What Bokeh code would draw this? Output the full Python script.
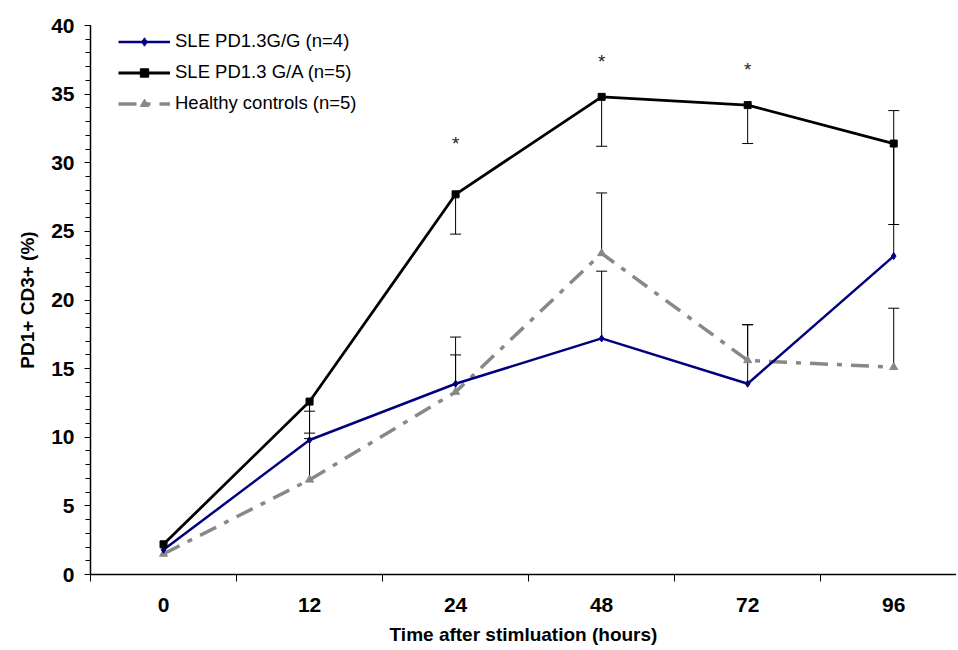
from bokeh.plotting import figure
from bokeh.models import (ColumnDataSource, FixedTicker, SingleIntervalTicker, Whisker,
                          TeeHead, Legend, LegendItem, Range1d)
from bokeh.core.properties import value
from bokeh.embed import file_html
from bokeh.resources import INLINE

# ---- data ----
categories = ["0", "12", "24", "48", "72", "96"]
gg_values = [1.8, 9.8, 13.9, 17.2, 13.9, 23.2]
ga_values = [2.2, 12.6, 27.7, 34.8, 34.2, 31.4]
hc_values = [1.5, 6.9, 13.3, 23.4, 15.6, 15.1]
gg_err_plus = [0.0, 2.1, 2.1, 4.9, 4.3, 10.6]
hc_err_plus = [0.0, 3.0, 4.0, 4.4, 2.6, 4.3]
ga_err_minus = [0.0, 2.3, 2.9, 3.6, 2.8, 5.9]
star_categories = ["24", "48", "72"]
star_values = [31.4, 37.4, 36.8]
y_ticks_interval = 5

FONT = "Liberation Sans"
xs = list(range(len(categories)))

p = figure(width=956, height=648, output_backend="svg", toolbar_location=None,
           x_range=Range1d(-0.5, 5.43), y_range=Range1d(0, 40),
           min_border_left=90, min_border_right=0, min_border_top=25, min_border_bottom=74)
p.outline_line_color = None
p.xgrid.grid_line_color = None
p.ygrid.grid_line_color = None
p.background_fill_color = "white"

# axes
p.xaxis.ticker = FixedTicker(ticks=xs, minor_ticks=[i - 0.5 for i in range(len(categories) + 1)])
p.xaxis.major_label_overrides = {i: c for i, c in zip(xs, categories)}
p.xaxis.major_tick_out = 0
p.xaxis.major_tick_in = 0
p.xaxis.minor_tick_out = 7
p.xaxis.minor_tick_in = 0
p.xaxis.major_label_standoff = 16
p.xaxis.axis_label = "Time after stimluation (hours)"
p.xaxis.axis_label_standoff = 9

p.yaxis.ticker = SingleIntervalTicker(interval=y_ticks_interval, num_minor_ticks=5)
p.yaxis.major_tick_out = 6
p.yaxis.major_tick_in = 0
p.yaxis.minor_tick_out = 5
p.yaxis.minor_tick_in = 0
p.yaxis.major_label_standoff = 10
p.yaxis.axis_label = "PD1+ CD3+ (%)"
p.yaxis.axis_label_standoff = 10

for ax in (p.xaxis, p.yaxis):
    ax.axis_line_color = "black"
    ax.axis_line_width = 1.5
    ax.major_tick_line_color = "black"
    ax.minor_tick_line_color = "black"
    ax.major_label_text_font = FONT
    ax.major_label_text_font_style = "bold"
    ax.major_label_text_font_size = "21px"
    ax.major_label_text_color = "black"
    ax.axis_label_text_font = FONT
    ax.axis_label_text_font_style = "bold"
    ax.axis_label_text_font_size = "19px"
    ax.axis_label_text_color = "black"

# error bars
def add_whisker(vals, errs, sign):
    bx, up, lo = [], [], []
    for x, v, e in zip(xs, vals, errs):
        if e > 0:
            bx.append(x)
            if sign > 0:
                lo.append(v); up.append(v + e)
            else:
                lo.append(v - e); up.append(v)
    src = ColumnDataSource(dict(base=bx, upper=up, lower=lo))
    head = TeeHead(size=11, line_color="black", line_width=1)
    w = Whisker(source=src, base="base", upper="upper", lower="lower",
                line_color="black", line_width=1,
                upper_head=head if sign > 0 else None,
                lower_head=head if sign < 0 else None,
                level="underlay")
    p.add_layout(w)

add_whisker(gg_values, gg_err_plus, 1)
add_whisker(hc_values, hc_err_plus, 1)
add_whisker(ga_values, ga_err_minus, -1)

# series
hc_line = p.line(xs, hc_values, line_color="#888888", line_width=3.5, line_dash="18 9 5 9")
hc_mark = p.scatter(xs, hc_values, marker="triangle", size=8, fill_color="#888888", line_color="#888888")
gg_line = p.line(xs, gg_values, line_color="#00007F", line_width=2.5)
gg_mark = p.scatter(xs, gg_values, marker="diamond", size=7, fill_color="#00007F", line_color="#00007F")
ga_line = p.line(xs, ga_values, line_color="black", line_width=2.8)
ga_mark = p.scatter(xs, ga_values, marker="square", size=7, fill_color="black", line_color="black")

# significance stars
star_x = [categories.index(c) for c in star_categories]
p.text(star_x, star_values, text=["*"] * len(star_x), text_align="center", text_baseline="middle",
       text_font=value(FONT), text_font_size="19px", text_color="#222222")

legend = Legend(items=[
    LegendItem(label="SLE PD1.3G/G (n=4)", renderers=[gg_line, gg_mark]),
    LegendItem(label="SLE PD1.3 G/A (n=5)", renderers=[ga_line, ga_mark]),
    LegendItem(label="Healthy controls (n=5)", renderers=[hc_line, hc_mark]),
], location=(28, 460))
legend.border_line_color = None
legend.background_fill_alpha = 0
legend.padding = 0
legend.margin = 0
legend.spacing = 9
legend.label_height = 21
legend.glyph_height = 21
legend.glyph_width = 52
legend.label_standoff = 5
legend.label_text_font = FONT
legend.label_text_font_size = "18.5px"
legend.label_text_color = "black"
p.add_layout(legend)

open("out.html", "w").write(file_html(p, INLINE))
